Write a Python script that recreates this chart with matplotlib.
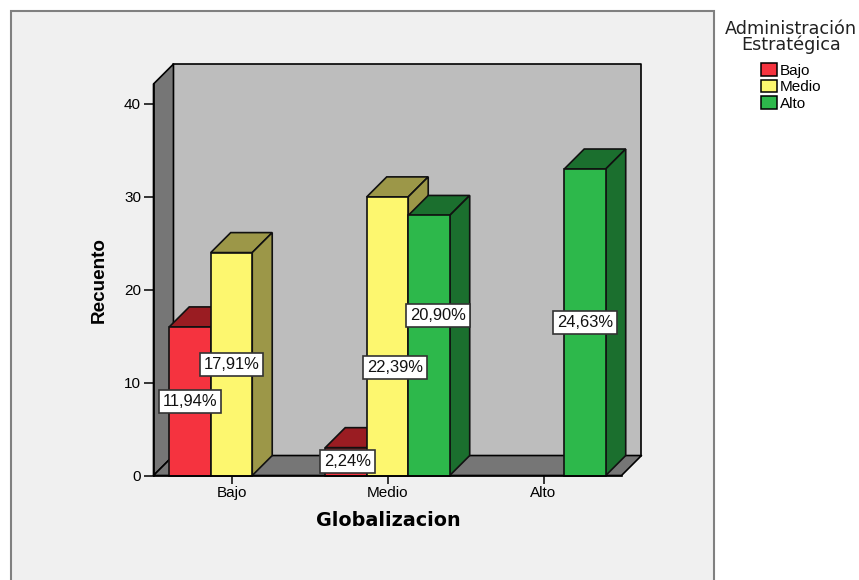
import matplotlib
matplotlib.use('Agg')
import matplotlib.pyplot as plt
from matplotlib.patches import Polygon, Rectangle, Patch

categorias = ['Bajo', 'Medio', 'Alto']
series = ['Bajo', 'Medio', 'Alto']
recuento = {
    'Bajo': [16, 3, 0],
    'Medio': [24, 30, 0],
    'Alto': [0, 28, 33],
}
porcentajes = {
    'Bajo': ['11,94%', '2,24%', ''],
    'Medio': ['17,91%', '22,39%', ''],
    'Alto': ['', '20,90%', '24,63%'],
}
# altura y desplazamiento de cada etiqueta
etiqueta_y = {
    'Bajo': [8, 1.5, 0],
    'Medio': [12, 11.6, 0],
    'Alto': [0, 17.2, 16.5],
}
etiqueta_dx = {
    'Bajo': [0, 0.01, 0],
    'Medio': [0, 0.05, 0],
    'Alto': [0, 0.06, 0],
}
color_frente = {'Bajo': '#f5333f', 'Medio': '#fdf76f', 'Alto': '#2db84b'}
color_lado = {'Bajo': '#9a1c22', 'Medio': '#9c9748', 'Alto': '#1b6f2e'}

W, H = 859, 580
ancho = 0.266
prof_x = 0.128
prof_y = 2.15
ymax = 42.15

plt.rcParams['font.family'] = ['Liberation Sans', 'DejaVu Sans']
fig = plt.figure(figsize=(W / 100, H / 100), dpi=100, facecolor='white')

# marco exterior gris, se corta por abajo
fig.add_artist(Rectangle((10.5 / W, -0.05), 703 / W, 1.05 - 11 / H, transform=fig.transFigure,
                         facecolor='#f0f0f0', edgecolor='#808080', linewidth=1.5, zorder=-1))

ax = fig.add_axes([153.5 / W, (H - 475.5) / H, 468 / W, 391.5 / H])
ax.patch.set_visible(False)
ax.set_xlim(-0.5, 2.5)
ax.set_ylim(0, ymax)

# paredes y piso de la caja
x0, x1 = -0.5, 2.5
pared = dict(edgecolor='black', linewidth=1.2, clip_on=False, joinstyle='round')
ax.add_patch(Polygon([(x0 + prof_x, prof_y), (x1 + prof_x, prof_y), (x1 + prof_x, ymax + prof_y),
                      (x0 + prof_x, ymax + prof_y)], facecolor='#bdbdbd', zorder=1, **pared))
ax.add_patch(Polygon([(x0, 0), (x0 + prof_x, prof_y), (x0 + prof_x, ymax + prof_y), (x0, ymax)],
                     facecolor='#767676', zorder=1, **pared))
ax.add_patch(Polygon([(x0, 0), (x1, 0), (x1 + prof_x, prof_y), (x0 + prof_x, prof_y)],
                     facecolor='#767676', zorder=1, **pared))

# barras, de izquierda a derecha para que se tapen bien
orden = 2
for i in range(len(categorias)):
    for j, s in enumerate(series):
        v = recuento[s][i]
        if v == 0:
            continue
        izq = i + (j - 1) * ancho - ancho / 2
        der = izq + ancho
        ax.add_patch(Polygon([(izq, v), (der, v), (der + prof_x, v + prof_y), (izq + prof_x, v + prof_y)],
                             facecolor=color_lado[s], edgecolor='#111111', linewidth=1.2,
                             clip_on=False, zorder=orden))
        ax.add_patch(Polygon([(der, 0), (der + prof_x, prof_y), (der + prof_x, v + prof_y), (der, v)],
                             facecolor=color_lado[s], edgecolor='#111111', linewidth=1.2,
                             clip_on=False, zorder=orden))
        ax.bar(i + (j - 1) * ancho, v, width=ancho, color=color_frente[s], edgecolor='#111111',
               linewidth=1.2, zorder=orden + 0.5, clip_on=False)
        orden += 1

# etiquetas de porcentaje
for i in range(len(categorias)):
    for j, s in enumerate(series):
        if porcentajes[s][i] == '':
            continue
        ax.text(i + (j - 1) * ancho + etiqueta_dx[s][i], etiqueta_y[s][i], porcentajes[s][i],
                ha='center', va='center', fontsize=11.9, color='#111111', zorder=50,
                bbox=dict(boxstyle='square,pad=0.24', facecolor='white', edgecolor='#333333', linewidth=1.2))

for lado in ['top', 'right']:
    ax.spines[lado].set_visible(False)
for lado in ['left', 'bottom']:
    ax.spines[lado].set_linewidth(1.2)
    ax.spines[lado].set_zorder(40)
ax.spines['left'].set_bounds(0, ymax)

ax.set_xticks(range(len(categorias)))
ax.set_xticklabels(categorias)
ax.set_yticks([0, 10, 20, 30, 40])
ax.tick_params(axis='y', length=7.5, width=1.1, pad=1.5, labelsize=11)
ax.tick_params(axis='x', length=6, width=1.1, pad=1.5, labelsize=11)

ax.set_xlabel('Globalizacion', fontsize=13.8, fontweight='bold', family='DejaVu Sans', labelpad=6)
ax.set_ylabel('Recuento', fontsize=13.6, fontweight='bold', labelpad=14)
ax.yaxis.set_label_coords((108 - 153.5) / 468, (475.5 - 280) / 391.5)
ax.xaxis.set_label_coords((388 - 153.5) / 468, -(521 - 475.5) / 391.5)
ax.xaxis.label.set_va('center')

handles = [Patch(facecolor=color_frente[s], edgecolor='black', linewidth=1.1, label=s) for s in series]
ley = fig.legend(handles=handles, title='Administración\nEstratégica', loc='upper left',
                 bbox_to_anchor=(725 / W, 1 - 20 / H), frameon=False, fontsize=11,
                 labelspacing=0.14, handlelength=1.05, handleheight=0.85, handletextpad=0.15,
                 borderpad=0, borderaxespad=0, alignment='center',
                 title_fontproperties={'family': 'DejaVu Sans', 'size': 12.7})
ley.get_title().set_linespacing(0.85)
ley.get_title().set_multialignment('center')
ley.get_title().set_color('#222222')
ley._legend_box.sep = 6.5

fig.savefig('out.png', dpi=100)
